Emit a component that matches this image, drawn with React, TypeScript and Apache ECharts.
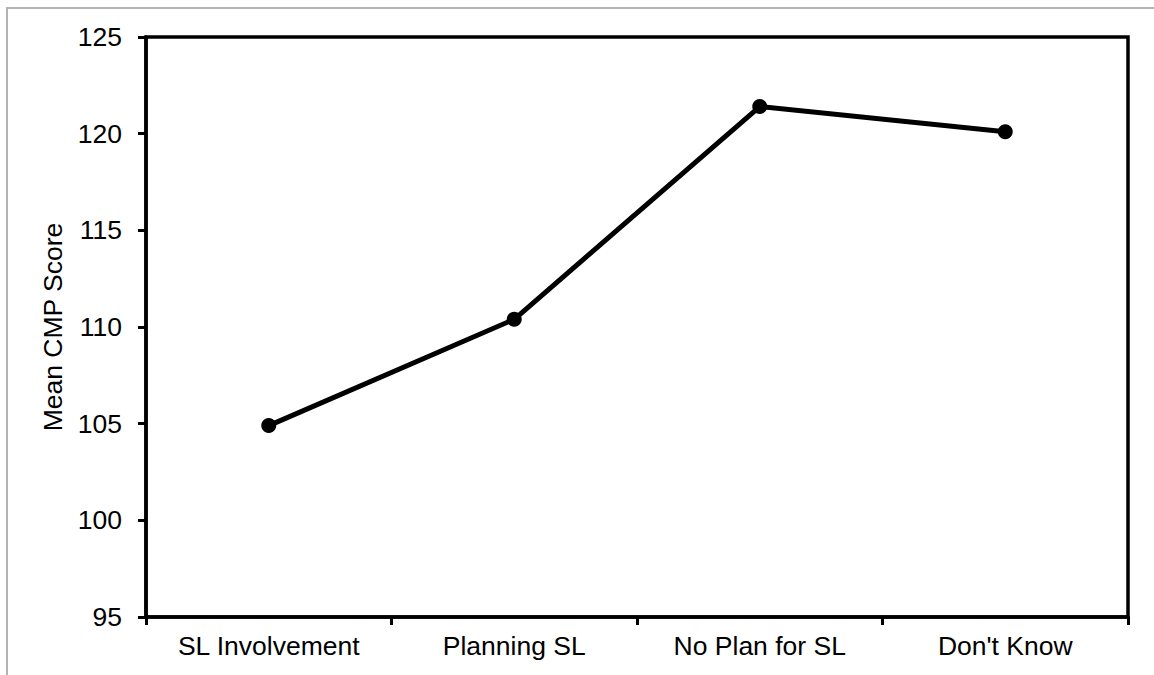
import React, { useEffect, useRef } from "react";
import * as echarts from "echarts";

const categories = ["SL Involvement", "Planning SL", "No Plan for SL", "Don't Know"];
const meanScores = [104.9, 110.4, 121.4, 120.1];
const yMin = 95;
const yMax = 125;
const yInterval = 5;

const FONT = "'Liberation Sans', Arial, sans-serif";
const FS = 26.5;

export default function App() {
  const ref = useRef<HTMLDivElement>(null);
  useEffect(() => {
    if (!ref.current) return;
    const chart = echarts.init(ref.current, null, { renderer: "svg" });
    chart.setOption({
      animation: false,
      backgroundColor: "#ffffff",
      grid: {
        left: 146,
        right: 26,
        top: 37,
        bottom: 58,
        show: true,
        borderColor: "#000",
        borderWidth: 3.5,
        backgroundColor: "transparent",
      },
      graphic: [
        {
          type: "line",
          shape: { x1: 6, y1: 8, x2: 1154, y2: 8 },
          style: { stroke: "#b3b3b3", lineWidth: 2 },
        },
        {
          type: "line",
          shape: { x1: 7, y1: 7, x2: 7, y2: 675 },
          style: { stroke: "#b3b3b3", lineWidth: 2 },
        },
      ],
      xAxis: {
        type: "category",
        data: categories,
        boundaryGap: true,
        axisLine: { show: true, lineStyle: { color: "#000", width: 3.5 } },
        axisTick: { show: true, alignWithLabel: false, length: 8, lineStyle: { color: "#000", width: 3 } },
        axisLabel: { color: "#000", fontSize: FS, fontFamily: FONT, margin: 15, interval: 0 },
        splitLine: { show: false },
      },
      yAxis: {
        type: "value",
        min: yMin,
        max: yMax,
        interval: yInterval,
        name: "Mean CMP Score",
        nameLocation: "middle",
        nameRotate: 90,
        nameGap: 77,
        nameTextStyle: { color: "#000", fontSize: FS, fontFamily: FONT },
        axisLine: { show: true, lineStyle: { color: "#000", width: 3.5 } },
        axisTick: { show: true, inside: false, length: 8, lineStyle: { color: "#000", width: 3 } },
        axisLabel: { color: "#000", fontSize: FS, fontFamily: FONT, margin: 24 },
        splitLine: { show: false },
      },
      series: [
        {
          type: "line",
          data: meanScores,
          symbol: "circle",
          symbolSize: 15,
          showSymbol: true,
          lineStyle: { color: "#000", width: 5 },
          itemStyle: { color: "#000" },
        },
      ],
    });
    return () => chart.dispose();
  }, []);
  return (
    <div
      ref={ref}
      style={{ position: "fixed", left: 0, top: 0, width: 1154, height: 675, background: "#fff" }}
    />
  );
}
